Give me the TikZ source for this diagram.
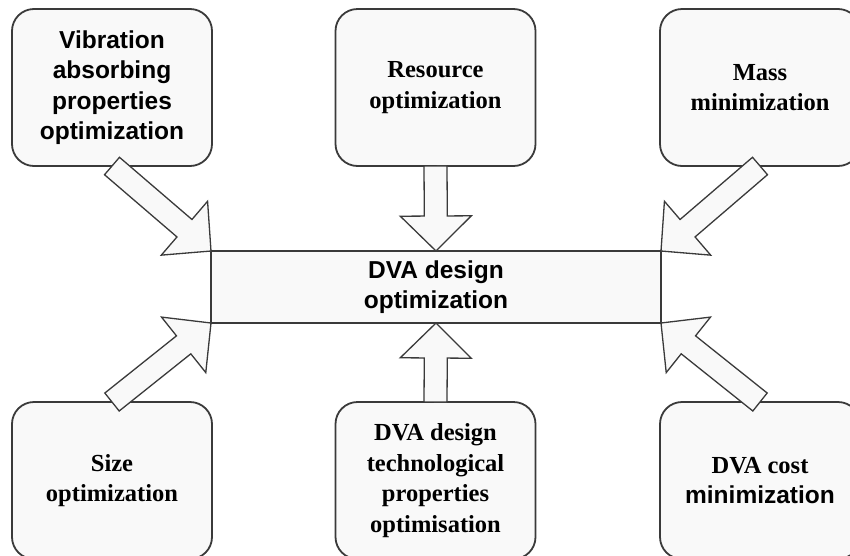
\documentclass[tikz,border=0pt]{standalone}
\usepackage{fontspec}
\setmainfont{Liberation Serif}
\setsansfont{Liberation Sans}
\usetikzlibrary{calc}

\definecolor{linegray}{HTML}{3A3A3A}
\definecolor{boxfill}{HTML}{F9F9F9}

% Hollow block arrow from #1 (tail) to #2 (tip); #3 names its helper point
\newcommand\fatarrow[3]{%
  \coordinate (#3-b) at ($(#2)!35pt!(#1)$);
  \draw[fatarrow]
    ($(#1)!11.5pt!90:(#2)$) -- ($(#3-b)!11.5pt!90:(#2)$)
    -- ($(#3-b)!35.5pt!90:(#2)$) -- (#2)
    -- ($(#3-b)!35.5pt!-90:(#2)$) -- ($(#3-b)!11.5pt!-90:(#2)$)
    -- ($(#1)!11.5pt!-90:(#2)$) -- cycle;
}

\begin{document}
\begin{tikzpicture}[x=1pt,y=-1pt,
  goalbox/.style={draw=linegray, line width=1.8pt, fill=boxfill,
    rounded corners=22pt, minimum width=200pt, minimum height=157pt,
    outer sep=0pt, inner sep=0pt, align=center,
    font=\fontsize{24.5}{30.5}\selectfont\bfseries},
  serifbox/.style={goalbox},
  sansbox/.style={goalbox, font=\fontsize{24.5}{30.5}\selectfont\sffamily\bfseries},
  centrebox/.style={draw=linegray, line width=1.8pt, fill=boxfill,
    minimum width=450pt, minimum height=72pt, outer sep=0pt, inner sep=0pt,
    align=center, font=\fontsize{24.5}{30}\selectfont\sffamily\bfseries},
  fatarrow/.style={draw=linegray, line width=1.3pt, fill=boxfill, line join=miter}]

\clip (0,0) rectangle (850,555);
\fill[white] (0,0) rectangle (850,555);

% goal boxes, top row
\node[sansbox]  (vib)  at (112,87.5)   {Vibration\\absorbing\\properties\\optimization};
\node[serifbox] (res)  at (435.5,87.5) {Resource\\optimization};
\node[serifbox] (mass) at (760,87.5)   {Mass\\minimization};

% goal boxes, bottom row
\node[serifbox] (size) at (112,480.5)   {Size\\optimization};
\node[serifbox] (tech) at (435.5,480.5) {DVA design\\technological\\properties\\optimisation};
\node[serifbox] (cost) at (760,480.5)   {DVA cost\\\sffamily minimization};

% central goal
\node[centrebox] (dva) at (436,287) {DVA design\\optimization};

% block arrows into the central goal
\fatarrow{vib.south}{dva.north west}{a1}
\fatarrow{res.south}{dva.north}{a2}
\fatarrow{mass.south}{dva.north east}{a3}
\fatarrow{size.north}{dva.south west}{a4}
\fatarrow{tech.north}{dva.south}{a5}
\fatarrow{cost.north}{dva.south east}{a6}

\end{tikzpicture}
\end{document}
